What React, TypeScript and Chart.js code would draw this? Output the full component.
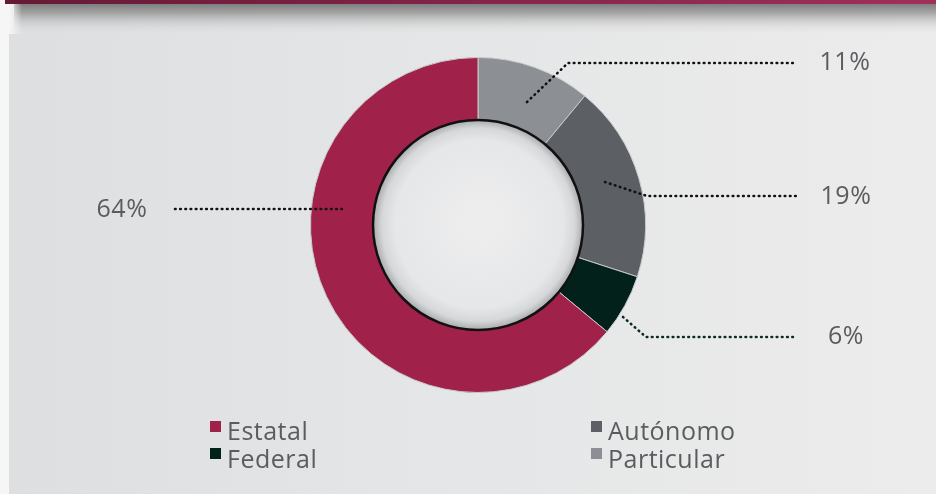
import React, { useEffect, useRef } from "react";
import { Chart, registerables } from "chart.js";

Chart.register(...registerables);

// ---- data ----
const categories = ["Particular", "Autónomo", "Federal", "Estatal"];
const values = [11, 19, 6, 64];
const colors = ["#8c8f93", "#5c6065", "#01211a", "#a0224a"];
const legendOrder = ["Estatal", "Autónomo", "Federal", "Particular"];

// ---- layout (annotation geometry) ----
const W = 936;
const H = 494;
const FONT = "'Open Sans', 'Noto Sans', sans-serif";
const TEXT = "#5b5c60";

// leader lines: points relative to chart centre, label position absolute
const leaders: Record<string, { pts: [number, number][]; lx: number; ly: number; color: string }> = {
  Particular: { pts: [[49, -123], [90, -162], [315, -162]], lx: 845, ly: 63, color: "#111" },
  "Autónomo": { pts: [[127, -43], [169, -29], [320, -29]], lx: 846, ly: 197, color: "#111" },
  Federal: { pts: [[145, 92], [168, 112], [318, 112]], lx: 846, ly: 337, color: "#0b2a20" },
  Estatal: { pts: [[-136, -16], [-305, -16]], lx: 122, ly: 210, color: "#111" },
};

const bgPlugin = {
  id: "bg",
  beforeDraw(chart: any) {
    const ctx = chart.ctx as CanvasRenderingContext2D;
    ctx.save();
    const g = ctx.createLinearGradient(0, 0, W, 0);
    g.addColorStop(0, "#dedfe1");
    g.addColorStop(0.5, "#e5e6e7");
    g.addColorStop(1, "#ececec");
    ctx.fillStyle = g;
    ctx.fillRect(0, 0, W, H);
    ctx.fillStyle = "#f6f6f6";
    ctx.fillRect(0, 0, 9, H);
    const sg = ctx.createLinearGradient(0, 4, 0, 34);
    sg.addColorStop(0, "rgba(115,115,115,0.9)");
    sg.addColorStop(0.3, "rgba(130,130,130,0.65)");
    sg.addColorStop(0.7, "rgba(180,180,180,0.25)");
    sg.addColorStop(1, "rgba(210,210,210,0)");
    ctx.fillStyle = sg;
    ctx.fillRect(14, 4, W - 14, 30);
    const lg = ctx.createLinearGradient(9, 0, 22, 0);
    lg.addColorStop(0, "rgba(246,246,246,1)");
    lg.addColorStop(1, "rgba(246,246,246,0)");
    ctx.fillStyle = lg;
    ctx.fillRect(9, 4, 13, 30);
    const bg = ctx.createLinearGradient(5, 0, W, 0);
    bg.addColorStop(0, "#661936");
    bg.addColorStop(1, "#a0305a");
    ctx.fillStyle = bg;
    ctx.fillRect(5, 0, W - 5, 4);
    ctx.restore();
  },
};

const overlayPlugin = {
  id: "overlay",
  afterDatasetsDraw(chart: any) {
    const ctx = chart.ctx as CanvasRenderingContext2D;
    const meta = chart.getDatasetMeta(0);
    const arc = meta.data[0];
    const cx = arc.x;
    const cy = arc.y;
    const inner = 105;
    ctx.save();
    const rg = ctx.createRadialGradient(cx + 5, cy - 5, 0, cx, cy, inner);
    rg.addColorStop(0, "#eeeeef");
    rg.addColorStop(0.8, "#e6e7e8");
    rg.addColorStop(0.92, "#d6d7d9");
    rg.addColorStop(1, "#a9aaad");
    ctx.beginPath();
    ctx.arc(cx, cy, inner, 0, Math.PI * 2);
    ctx.fillStyle = rg;
    ctx.fill();
    ctx.lineWidth = 2.5;
    ctx.strokeStyle = "#111";
    ctx.stroke();

    ctx.lineCap = "round";
    ctx.setLineDash([0.6, 4.6]);
    ctx.lineWidth = 2.6;
    categories.forEach((cat) => {
      const L = leaders[cat];
      ctx.strokeStyle = L.color;
      ctx.beginPath();
      L.pts.forEach(([dx, dy], k) => {
        if (k === 0) ctx.moveTo(cx + dx, cy + dy);
        else ctx.lineTo(cx + dx, cy + dy);
      });
      ctx.stroke();
    });
    ctx.setLineDash([]);
    (ctx as any).letterSpacing = "0.6px";
    ctx.fillStyle = TEXT;
    ctx.font = `25px ${FONT}`;
    ctx.textAlign = "center";
    ctx.textBaseline = "middle";
    categories.forEach((cat, i) => {
      const L = leaders[cat];
      ctx.fillText(`${values[i]}%`, L.lx, L.ly);
    });

    ctx.textAlign = "left";
    ctx.textBaseline = "alphabetic";
    (ctx as any).letterSpacing = "0.5px";
    ctx.font = `25px ${FONT}`;
    const cols = [210, 591];
    const rows = [421, 448];
    legendOrder.forEach((name, k) => {
      const col = k % 2;
      const row = Math.floor(k / 2);
      const idx = categories.indexOf(name);
      const x = cols[col];
      const y = rows[row];
      ctx.fillStyle = colors[idx];
      ctx.fillRect(x, y, 11, 11);
      ctx.fillStyle = TEXT;
      ctx.fillText(name, x + 17, y + 19 + row);
    });
    ctx.restore();
  },
};

export default function App() {
  const ref = useRef<HTMLCanvasElement | null>(null);
  useEffect(() => {
    if (!ref.current) return;
    const chart = new Chart(ref.current, {
      type: "doughnut",
      data: {
        labels: categories,
        datasets: [
          {
            data: values,
            backgroundColor: colors,
            borderColor: "#c9cacc",
            borderWidth: 1,
          },
        ],
      },
      options: {
        responsive: false,
        animation: false,
        cutout: "60%",
        layout: { padding: { left: 310, right: 290, top: 57, bottom: 101 } },
        plugins: {
          legend: { display: false },
          tooltip: { enabled: false },
        },
      },
      plugins: [bgPlugin, overlayPlugin],
    });
    return () => chart.destroy();
  }, []);
  return (
    <div style={{ position: "absolute", left: 0, top: 0, width: W, height: H }}>
      <canvas ref={ref} width={W} height={H} style={{ display: "block" }} />
    </div>
  );
}
